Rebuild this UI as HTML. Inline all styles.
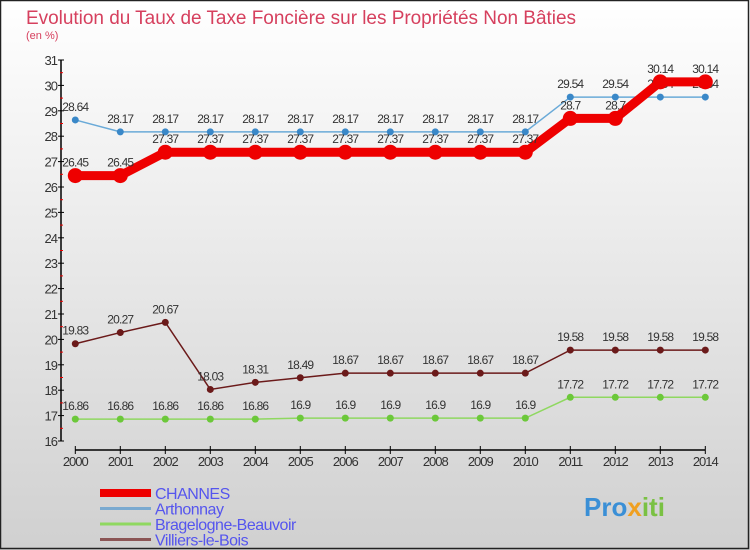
<!DOCTYPE html>
<html><head><meta charset="utf-8"><style>
body{margin:0;}
#c{width:750px;height:550px;position:relative;overflow:hidden;background:linear-gradient(#ffffff,#d0d0d0);font-family:"Liberation Sans",sans-serif;}
</style></head><body>
<div id="c">
<svg id="s" width="750" height="550" xmlns="http://www.w3.org/2000/svg">
<rect x="0.5" y="0.5" width="748" height="548" fill="none" stroke="#222" stroke-width="1.5"/>
<text x="26" y="24" font-size="19" fill="#d6405e" textLength="550">Evolution du Taux de Taxe Foncière sur les Propriétés Non Bâties</text>
<text x="26" y="39" font-size="11" fill="#d6405e">(en %)</text>
<g id="axes"></g><g id="series"></g><g id="legend"></g>
<text x="584" y="516" font-size="26" font-weight="bold" fill="#3a8fd6">Pro<tspan fill="#f0a020">x</tspan><tspan fill="#7ac143">iti</tspan></text>
</svg>
</div>
<script>
const years=[2000,2001,2002,2003,2004,2005,2006,2007,2008,2009,2010,2011,2012,2013,2014];
const channes=[26.45,26.45,27.37,27.37,27.37,27.37,27.37,27.37,27.37,27.37,27.37,28.7,28.7,30.14,30.14];
const arthonnay=[28.64,28.17,28.17,28.17,28.17,28.17,28.17,28.17,28.17,28.17,28.17,29.54,29.54,29.54,29.54];
const bragelogne=[16.86,16.86,16.86,16.86,16.86,16.9,16.9,16.9,16.9,16.9,16.9,17.72,17.72,17.72,17.72];
const villiers=[19.83,20.27,20.67,18.03,18.31,18.49,18.67,18.67,18.67,18.67,18.67,19.58,19.58,19.58,19.58];
const yTicks=[16,17,18,19,20,21,22,23,24,25,26,27,28,29,30,31];
const NS="http://www.w3.org/2000/svg";
const X=i=>75.3+i*45;
const Y=v=>441-(v-16)*25.4;
function mk(tag,attrs,parent){const e=document.createElementNS(NS,tag);for(const k in attrs)e.setAttribute(k,attrs[k]);parent.appendChild(e);return e;}
const ax=document.getElementById('axes');
let e=mk('line',{x1:61,y1:Y(31),x2:61,y2:Y(16),stroke:'#000','stroke-width':1.5},ax);


yTicks.forEach(t=>{
 let l=mk('line',{x1:58,x2:64,y1:Y(t),y2:Y(t),stroke:'#000'},ax);
 
 
 if(t<31){let m=mk('line',{x1:60,x2:63,y1:Y(t+0.5),y2:Y(t+0.5),stroke:'#e00'},ax);
 
 }
 let tx=mk('text',{x:57,y:Y(t)+5,'font-size':13,'text-anchor':'end',fill:'#333','letter-spacing':'-1'},ax);
 tx.textContent=t;
 
 
});
e=mk('line',{x1:X(0),y1:450,x2:X(14),y2:450,stroke:'#000','stroke-width':1.5},ax);


years.forEach((yr,i)=>{
 let l=mk('line',{x1:X(i),x2:X(i),y1:446,y2:454,stroke:'#000'},ax);
 
 
 let tx=mk('text',{x:X(i),y:466,'font-size':13,'text-anchor':'middle',fill:'#333','letter-spacing':'-1'},ax);
 tx.textContent=yr;
 
 
});
const sg=document.getElementById('series');
const defs=[
 {d:villiers,c:'#6b1a1a',w:1.5,r:3.5,n:'villiers-le-bois'},
 {d:bragelogne,c:'#8fd860',w:1.5,r:3.5,fc:'#6cc83a',n:'bragelogne-beauvoir'},
 {d:arthonnay,c:'#6aaad8',w:1.5,r:3.5,fc:'#3a88c8',n:'arthonnay'},
 {d:channes,c:'#ee0000',w:9,r:7.5,n:'channes'}
];
defs.forEach(s=>{
 const g=mk('g',{},sg);
 
 
 let p=mk('polyline',{points:s.d.map((v,i)=>X(i)+','+Y(v)).join(' '),fill:'none',stroke:s.c,'stroke-width':s.w},g);
 
 
 s.d.forEach((v,i)=>{
  let c=mk('circle',{cx:X(i),cy:Y(v),r:s.r,fill:s.fc||s.c},g);
  
  
  let t=mk('text',{x:X(i),y:Y(v)-9,'font-size':12,'text-anchor':'middle',fill:'#333','letter-spacing':'-0.8'},g);
  t.textContent=String(v);
  
  
 });
});
const lg=document.getElementById('legend');
const leg=[['CHANNES','#ee0000',8],['Arthonnay','#7aaad0',3],['Bragelogne-Beauvoir','#8fd860',3],['Villiers-le-Bois','#8b5555',3]];
leg.forEach((L,i)=>{
 const y=493+i*15.5;
 const g=mk('g',{},lg);
 
 
 mk('line',{x1:100,x2:151,y1:y,y2:y,stroke:L[1],'stroke-width':L[2]},g);
 let t=mk('text',{x:155,y:y+6,'font-size':16,fill:'#5555ee','letter-spacing':'-0.5'},g);
 t.textContent=L[0];
});
</script>
</body></html>
